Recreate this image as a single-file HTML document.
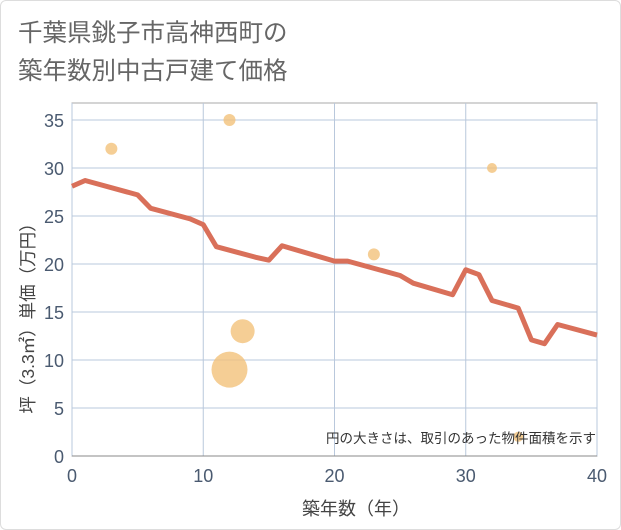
<!DOCTYPE html>
<html><head><meta charset="utf-8"><style>
body{margin:0;background:#fff;font-family:"Liberation Sans","Noto Sans CJK JP",sans-serif}
#card{position:absolute;left:0;top:0;width:619px;height:528px;border:1px solid #ddd;border-radius:6px;background:#fff}
</style></head><body>
<div id="card"></div>
<svg width="621" height="530" style="position:absolute;left:0;top:0" font-family="Liberation Sans, Noto Sans CJK JP, sans-serif">
<text x="18" y="41" font-size="24.5" fill="#666">千葉県銚子市高神西町の</text>
<text x="18" y="79" font-size="24.5" fill="#666">築年数別中古戸建て価格</text>
<g id="plot"></g>
<text x="356" y="515" font-size="18" fill="#444" text-anchor="middle">築年数（年）</text>
<text transform="translate(34,314) rotate(-90)" font-size="17.5" fill="#444" text-anchor="middle">坪（3.3㎡）単価（万円）</text>
<text x="596" y="443" font-size="13.5" fill="#333" text-anchor="end">円の大きさは、取引のあった物件面積を示す</text>
</svg>
<script>
const xTicks=[0,10,20,30,40];
const yTicks=[0,5,10,15,20,25,30,35];
const lineX=[0,1,5,6,9,10,11,14,15,16,20,21,25,26,29,30,31,32,34,35,36,37,40];
const lineY=[28.1,28.7,27.2,25.8,24.7,24.1,21.8,20.7,20.4,21.9,20.3,20.3,18.8,18.0,16.8,19.4,18.9,16.2,15.4,12.1,11.7,13.7,12.6];
const bubX=[3,12,32,23,13,12,34];
const bubY=[32,35,30,21,13,9,2];
const bubR=[6,6,5,6,12,18,5];
const L=72,R=597,T=103,B=456;
const sx=v=>L+v/40*(R-L), sy=v=>B-v/35*(456-120);
const g=document.getElementById('plot');const NS='http://www.w3.org/2000/svg';
function mk(t,a){const e=document.createElementNS(NS,t);for(const k in a)e.setAttribute(k,a[k]);g.appendChild(e);return e;}
let e=mk('rect',{x:L,y:T,width:R-L,height:B-T,fill:'#fff',stroke:'#aaa'});


yTicks.forEach(v=>{let l=mk('line',{x1:L,x2:R,y1:sy(v),y2:sy(v),stroke:'#b9c8dc'});


let t=mk('text',{x:L-8,y:sy(v)+7,'font-size':18,fill:'#4a5a70','text-anchor':'end'});t.textContent=v;

});
xTicks.forEach(v=>{let l=mk('line',{y1:T,y2:B,x1:sx(v),x2:sx(v),stroke:'#b9c8dc'});


let t=mk('text',{x:sx(v),y:B+26,'font-size':18,fill:'#4a5a70','text-anchor':'middle'});t.textContent=v;

});
let ax=mk('line',{x1:L,x2:R,y1:B,y2:B,stroke:'#888'});


bubX.forEach((x,i)=>{let c=mk('circle',{cx:sx(x),cy:sy(bubY[i]),r:bubR[i],fill:'#f2c27a','fill-opacity':0.8});

});
let p=mk('polyline',{points:lineX.map((x,i)=>sx(x)+','+sy(lineY[i])).join(' '),fill:'none',stroke:'#d9705a','stroke-width':5,'stroke-linejoin':'round'});


</script>
</body></html>
